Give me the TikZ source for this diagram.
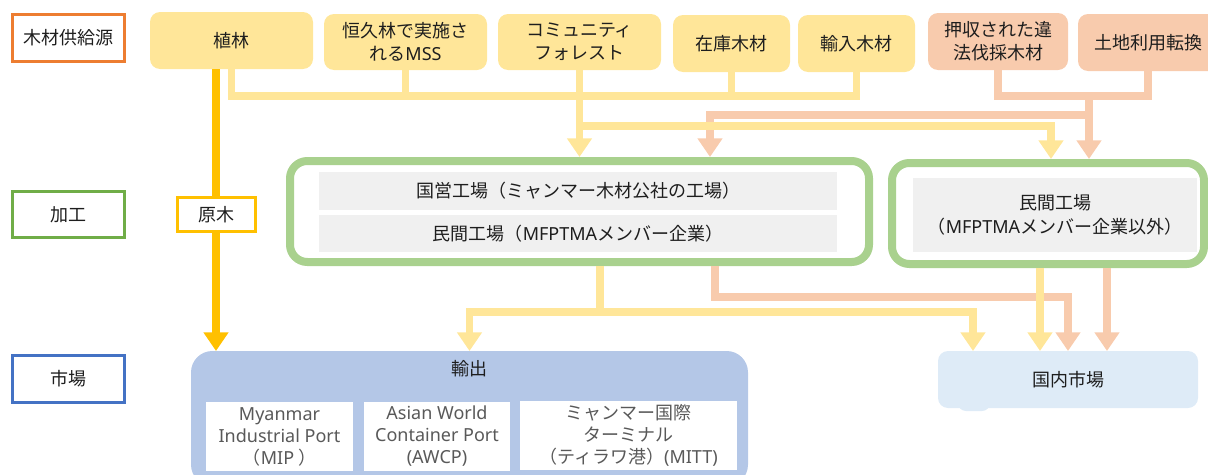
\documentclass[tikz,border=0pt]{standalone}
\usepackage{fontspec}
\setmainfont{Noto Sans CJK JP}
\newfontfamily\lat{Noto Sans}
\usetikzlibrary{arrows.meta,calc}
\definecolor{ylw}{HTML}{FFE699}
\definecolor{pch}{HTML}{F8CBAD}
\definecolor{gold}{HTML}{FFC000}
\definecolor{grn}{HTML}{A9D18E}
\definecolor{expb}{HTML}{B4C7E7}
\definecolor{dom}{HTML}{DEEBF7}
\definecolor{gbar}{HTML}{F0F0F0}
\definecolor{lorange}{HTML}{ED7D31}
\definecolor{lgreen}{HTML}{70AD47}
\definecolor{lblue}{HTML}{4472C4}
\definecolor{txt}{HTML}{1E1E1E}
\definecolor{ptxt}{HTML}{595959}
\begin{document}
\begin{tikzpicture}[x=0.75pt,y=-0.75pt,
  every node/.style={font=\fontsize{13.5}{17.5}\selectfont, text=txt, inner sep=0pt, align=center},
  sz/.style 2 args={minimum width=#1*0.75pt, minimum height=#2*0.75pt},
  lab/.style={draw=#1, line width=2.25pt, fill=white},
  src/.style={fill=ylw, rounded corners=7.5pt, outer sep=0pt},
  srcp/.style={fill=pch, rounded corners=7.5pt, outer sep=0pt},
  grnbox/.style={draw=grn, line width=6pt, fill=white, rounded corners=13pt, outer sep=3pt},
  barbox/.style={fill=gbar, outer sep=0pt},
  port/.style={fill=white, text=ptxt, font=\fontsize{13.5}{16.5}\selectfont, outer sep=0pt},
  ybus/.style={draw=ylw, line width=5.5pt},
  pbus/.style={draw=pch, line width=5.5pt},
  goldl/.style={draw=gold, line width=6.5pt},
  tip/.style={-{Triangle[width=18pt,length=14pt]}},
  tips/.style={{Triangle[width=18pt,length=14pt]}-{Triangle[width=18pt,length=14pt]}}
]
\useasboundingbox (0,0) rectangle (1208,475);
\clip (0,0) rectangle (1208,475);

% left labels
\node[lab=lorange, sz={112}{47}] (l1) at (68.5,38) {木材供給源};
\node[lab=lgreen, sz={112}{46}] (l2) at (68.5,214.5) {加工};
\node[lab=lblue, sz={112}{47}] (l3) at (68.5,379) {市場};

% sources
\node[src, sz={163}{57}] (plant) at (231.5,40.5) {植林};
\node[src, sz={163}{56}] (mss) at (405.5,42) {恒久林で実施さ\\れる{\lat MSS}};
\node[src, sz={163}{56}] (comm) at (579.5,42) {コミュニティ\\フォレスト};
\node[src, sz={117}{57}] (stock) at (731.5,43.5) {在庫木材};
\node[src, sz={117}{57}] (import) at (856.5,43.5) {輸入木材};
\node[srcp, sz={140}{57}] (seized) at (998,41.5) {押収された違\\法伐採木材};
\node[srcp, sz={140}{57}] (land) at (1148,42.5) {土地利用転換};

% processing
\node[grnbox, sz={579}{101}] (mill1) at (579.5,211.5) {};
\node[barbox, sz={518}{38}] (state) at (578,191) {国営工場（ミャンマー木材公社の工場）};
\node[barbox, sz={518}{37}] (priv) at (578,233.5) {民間工場（{\lat MFPTMA}メンバー企業）};
\node[grnbox, sz={312}{101}] (mill2) at (1048,213.5) {};
\node[barbox, sz={284}{74}] (priv2) at (1055,215) {民間工場\\（{\lat MFPTMA}メンバー企業以外）};

% markets
\node[fill=expb, rounded corners=16pt, outer sep=0pt, sz={557}{135}] (export) at (469.5,418.5) {};
\node (exlab) at (469.5,369) {輸出};
\node[port, sz={147}{69}] (mip) at (279.5,436.5) {{\lat Myanmar}\\{\lat Industrial Port}\\（{\lat MIP} ）};
\node[port, sz={146}{69}] (awcp) at (437,436.5) {{\lat Asian World}\\{\lat Container Port}\\{\lat (AWCP)}};
\node[port, sz={217}{69}] (mitt) at (628.5,435.5) {ミャンマー国際\\ターミナル\\（ティラワ港）{\lat (MITT)}};
\fill[dom, rounded corners=6pt] (958,396) rectangle (990,411);
\node[fill=dom, rounded corners=7.5pt, outer sep=0pt, sz={260}{57}] (dom) at (1068,379.5) {国内市場};

% helper levels
\coordinate (busy) at (0,96);
\coordinate (y115) at (0,115);
\coordinate (y126) at (0,126);
\coordinate (y297) at (0,297);
\coordinate (y312) at (0,312);

% peach flows (upper)
\draw[pbus] (seized.south) -- (seized.south |- busy) -- (land.south |- busy) -- (land.south);
\coordinate (pj) at ($(mill2.north)+(41,0)$);
\coordinate (pk) at ($(mill1.north)+(130.5,0)$);
\draw[pbus,tip] (pj |- busy) -- (pj);
\draw[pbus,tip] (pj |- y115) -| (pk);

% yellow flows (upper)
\draw[ybus] (plant.south) -- (plant.south |- busy) -- (import.south |- busy) -- (import.south);
\draw[ybus] (mss.south) -- (mss.south |- busy);
\draw[ybus] (stock.south) -- (stock.south |- busy);
\draw[ybus,tip] (comm.south) -- (mill1.north);
\coordinate (yj) at ($(mill2.north)+(3,0)$);
\draw[ybus,tip] (comm.south |- y126) -| (yj);

% raw logs
\node[lab=gold, sz={78}{34}] (raw) at (216,214.5) {原木};
\draw[goldl] (plant.south -| raw.north) -- (raw.north);
\draw[goldl,tip] (raw.south) -- (raw.south |- export.north);

% peach flows (lower)
\coordinate (pa) at ($(mill1.south)+(135.5,0)$);
\draw[pbus,tip] (pa) |- (y297 -| dom.north) -- (dom.north);
\coordinate (pb) at ($(mill2.south)+(59,0)$);
\draw[pbus,tip] (pb) -- (pb |- dom.north);

% yellow flows (lower)
\coordinate (ya) at ($(mill1.south)+(20.5,0)$);
\coordinate (yd) at ($(dom.north)+(-95,0)$);
\draw[ybus] (ya) -- (ya |- y312);
\draw[ybus,tips] (export.north) |- (yd |- y312) -- (yd);
\coordinate (yb) at ($(mill2.south)+(-8,0)$);
\draw[ybus,tip] (yb) -- (yb |- dom.north);
\end{tikzpicture}
\end{document}
